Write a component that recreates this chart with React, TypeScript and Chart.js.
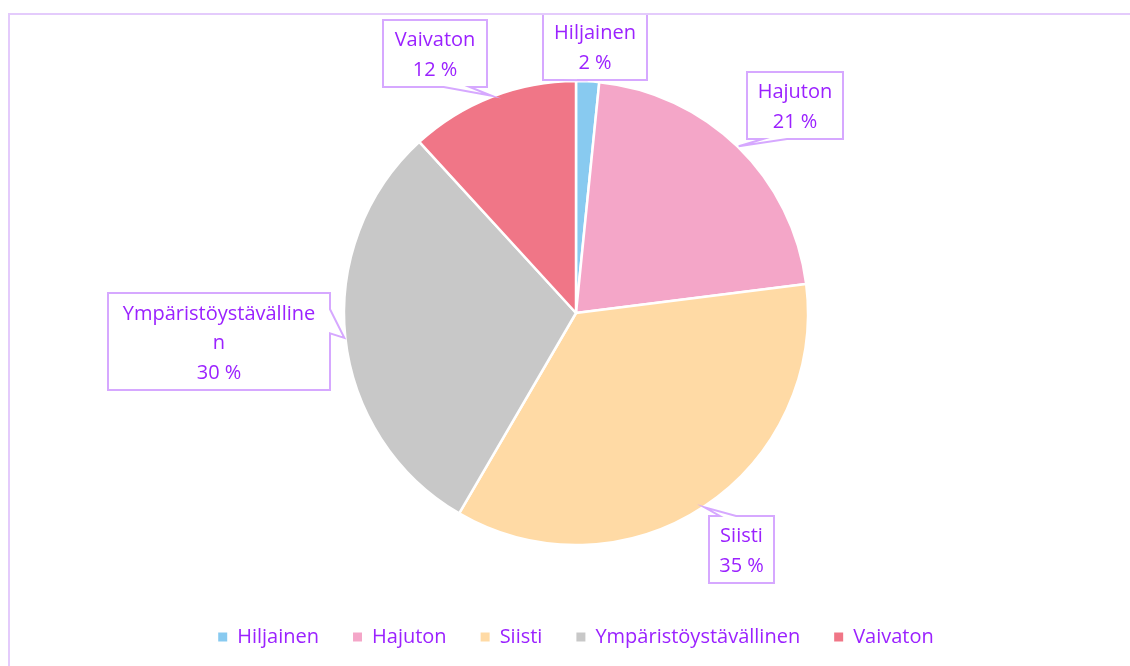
import React, { useEffect, useRef } from "react";
import { Chart, registerables } from "chart.js";

Chart.register(...registerables);

// ---- data ----
const categories = ["Hiljainen", "Hajuton", "Siisti", "Ympäristöystävällinen", "Vaivaton"];
const shares = [1.6, 21.4, 35.4, 29.8, 11.8];

// ---- styling ----
const sliceColors = ["#88CAF0", "#F4A6C8", "#FFDAA5", "#C8C8C8", "#F07687"];
const textColor = "#9B22FF";
const calloutBorder = "#D6A8FF";
const frameColor = "#E4CBFC";
const fontFamily = "'Open Sans', 'Noto Sans', sans-serif";
const fontSize = 20;
// callout boxes relative to the pie centre: [left, top, width, height, wrapWidth]
const calloutBoxes = [
  [-33, -300, 104, 67, 999],
  [171, -241, 96, 67, 999],
  [133, 203, 65, 67, 999],
  [-468, -20, 222, 97, 200],
  [-193, -293, 104, 67, 999],
];

function wrapText(ctx: CanvasRenderingContext2D, text: string, maxW: number): string[] {
  const lines: string[] = [];
  let cur = "";
  for (const ch of text) {
    if (cur && ctx.measureText(cur + ch).width > maxW) {
      lines.push(cur);
      cur = ch;
    } else cur += ch;
  }
  if (cur) lines.push(cur);
  return lines;
}

const calloutPlugin = {
  id: "callouts",
  afterDatasetsDraw(chart: any) {
    const ctx: CanvasRenderingContext2D = chart.ctx;
    const meta = chart.getDatasetMeta(0);
    const total = shares.reduce((a, b) => a + b, 0);
    ctx.save();
    meta.data.forEach((arc: any, i: number) => {
      const p = arc.getProps(["x", "y", "startAngle", "endAngle", "outerRadius"], true);
      const mid = (p.startAngle + p.endAngle) / 2;
      const tx = p.x + Math.cos(mid) * (p.outerRadius + 1);
      const ty = p.y + Math.sin(mid) * (p.outerRadius + 1);
      const [bl, bt, w, h, wrapW] = calloutBoxes[i];
      const l = p.x + bl, t = p.y + bt, r = l + w, b = t + h;
      const hc = l + w / 2, vc = t + h / 2;
      const dxPos = tx - hc, dyPos = ty - vc;
      const dq = (dxPos * h) / w;
      const vertical = Math.abs(dyPos) - Math.abs(dq) > 0;
      const side = vertical ? (dyPos > 0 ? "b" : "t") : dxPos > 0 ? "r" : "l";
      const x1 = (w * (dxPos > 0 ? 7 : 2)) / 12, x2 = (w * (dxPos > 0 ? 10 : 5)) / 12;
      const y1 = (h * (dyPos > 0 ? 7 : 2)) / 12, y2 = (h * (dyPos > 0 ? 10 : 5)) / 12;
      ctx.beginPath();
      ctx.moveTo(l, t);
      if (side === "t") { ctx.lineTo(l + x1, t); ctx.lineTo(tx, ty); ctx.lineTo(l + x2, t); }
      ctx.lineTo(r, t);
      if (side === "r") { ctx.lineTo(r, t + y1); ctx.lineTo(tx, ty); ctx.lineTo(r, t + y2); }
      ctx.lineTo(r, b);
      if (side === "b") { ctx.lineTo(l + x2, b); ctx.lineTo(tx, ty); ctx.lineTo(l + x1, b); }
      ctx.lineTo(l, b);
      if (side === "l") { ctx.lineTo(l, t + y2); ctx.lineTo(tx, ty); ctx.lineTo(l, t + y1); }
      ctx.closePath();
      ctx.fillStyle = "#FFFFFF";
      ctx.fill();
      ctx.strokeStyle = calloutBorder;
      ctx.lineWidth = 2;
      ctx.lineJoin = "miter";
      ctx.stroke();

      ctx.font = `${fontSize}px ${fontFamily}`;
      ctx.fillStyle = textColor;
      ctx.textAlign = "center";
      ctx.textBaseline = "middle";
      const lines = wrapText(ctx, categories[i], wrapW);
      lines.push(`${Math.round((shares[i] / total) * 100)} %`);
      const lh = 29.5;
      const y0 = vc + 2 - ((lines.length - 1) * lh) / 2;
      lines.forEach((ln, k) => ctx.fillText(ln, hc, y0 + k * lh));
    });
    ctx.restore();
  },
};

export default function App() {
  const ref = useRef<HTMLCanvasElement | null>(null);
  useEffect(() => {
    if (!ref.current) return;
    const baseGen = (Chart as any).overrides.pie.plugins.legend.labels.generateLabels;
    const chart = new Chart(ref.current, {
      type: "pie",
      data: {
        labels: categories,
        datasets: [
          {
            data: shares,
            backgroundColor: sliceColors,
            borderColor: "#FFFFFF",
            borderWidth: 2.5,
            radius: 232,
          } as any,
        ],
      },
      options: {
        responsive: false,
        animation: false,
        devicePixelRatio: 1,
        layout: { padding: { top: 18, bottom: 9, left: 12, right: 0 } },
        plugins: {
          legend: {
            position: "bottom",
            labels: {
              boxWidth: 9,
              boxHeight: 9,
              padding: 34,
              color: textColor,
              font: { family: fontFamily, size: fontSize },
              generateLabels: (c: any) =>
                baseGen(c).map((it: any) => ({ ...it, lineWidth: 0, strokeStyle: "rgba(0,0,0,0)" })),
            },
          },
          tooltip: { enabled: false },
        },
      } as any,
      plugins: [calloutPlugin],
    });
    return () => chart.destroy();
  }, []);
  return (
    <div
      style={{
        position: "fixed",
        left: 8,
        top: 13,
        width: 1122,
        height: 653,
        borderTop: `2px solid ${frameColor}`,
        borderLeft: `2px solid ${frameColor}`,
        boxSizing: "border-box",
        overflow: "hidden",
        background: "#FFFFFF",
      }}
    >
      <canvas ref={ref} width={1120} height={651} style={{ display: "block" }} />
    </div>
  );
}
